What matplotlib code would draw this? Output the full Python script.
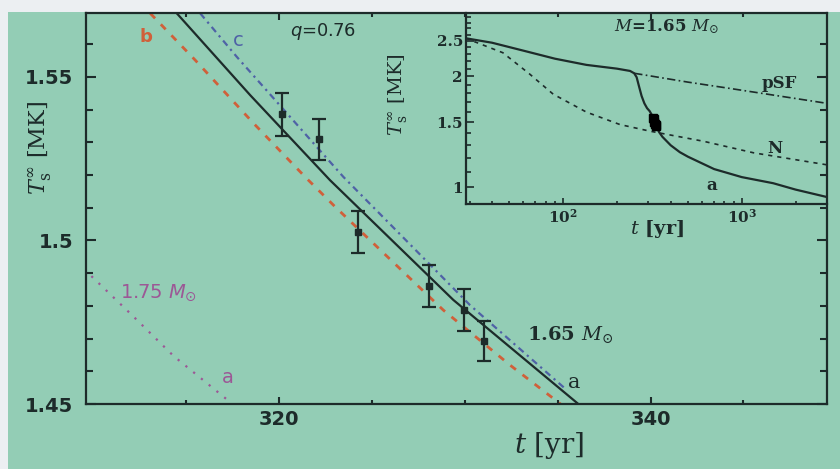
import matplotlib.pyplot as plt
from matplotlib.patches import Rectangle
from matplotlib.ticker import FixedLocator, NullFormatter

plt.rcParams['mathtext.fontset'] = 'dejavuserif'

# Cas A surface temperature points: age [yr], T [MK], 1-sigma error
obs_age = [320.15, 322.12, 324.27, 328.07, 329.97, 331.03]
obs_temp = [1.5385, 1.5309, 1.5025, 1.4861, 1.4787, 1.4692]
obs_err = [0.0066, 0.0062, 0.0065, 0.0065, 0.0064, 0.0061]

# cooling curves around the data, q = 0.76
age_a = [314.49, 318.44, 322.74, 329.38, 336.11]
temp_a = [1.5694, 1.5444, 1.5184, 1.4818, 1.4500]
age_b = [313.06, 315.48, 318.62, 321.40, 323.01, 328.84, 332.43, 335.22]
temp_b = [1.5694, 1.5551, 1.5358, 1.5194, 1.5103, 1.4787, 1.4619, 1.4497]
age_c = [315.75, 317.72, 323.46, 330.28, 335.48]
temp_c = [1.5694, 1.5561, 1.5194, 1.4802, 1.4543]
age_175 = [309.5, 312.16, 314.31, 317.27]
temp_175 = [1.4912, 1.4767, 1.4647, 1.4510]

# full cooling history for M = 1.65 Msun (inset)
ins_age_a = [28.5, 40, 60, 90, 135, 200, 237, 250, 258, 266, 275, 285, 295,
             305, 314.5, 320, 331, 345, 360, 400, 450, 500, 700, 1000, 1500,
             2000, 3000]
ins_temp_a = [2.54, 2.47, 2.35, 2.235, 2.15, 2.10, 2.07, 2.04, 1.99, 1.88,
              1.77, 1.69, 1.64, 1.61, 1.569, 1.538, 1.47, 1.41, 1.37, 1.30,
              1.245, 1.21, 1.12, 1.065, 1.025, 0.985, 0.94]
ins_age_psf = [250, 500, 861, 3000]
ins_temp_psf = [2.04, 1.93, 1.855, 1.69]
ins_age_n = [28.5, 46, 65, 88, 135, 208, 306, 610, 1164, 3000]
ins_temp_n = [2.54, 2.32, 2.03, 1.79, 1.60, 1.48, 1.42, 1.333, 1.24, 1.15]

green = '#93cdb5'
ink = '#1d2b2a'
red = '#d0603a'
blue = '#4f62a6'
purple = '#9c5896'

fig = plt.figure(figsize=(8.4, 4.69), dpi=100)
fig.patch.set_facecolor('#eceff2')
fig.patches.append(Rectangle((8 / 840, 0), 1, 457 / 469, transform=fig.transFigure,
                             facecolor=green, edgecolor='none', zorder=-10))

ax = fig.add_axes([86 / 840, 65 / 469, 741 / 840, 391 / 469])
ax.set_facecolor(green)

ax.plot(age_a, temp_a, color=ink, lw=1.6)
ax.plot(age_b, temp_b, color=red, lw=2.0, ls=(0, (2.5, 3)))
ax.plot(age_c, temp_c, color=blue, lw=1.6, ls=(0, (3, 2, 1, 2)))
ax.plot(age_175, temp_175, color=purple, lw=1.6, ls=(0, (1, 3.5)))
ax.errorbar(obs_age, obs_temp, yerr=obs_err, fmt='s', color=ink, ms=4,
            capsize=5, elinewidth=1.6, capthick=1.6)

ax.set_xlim(309.6, 349.5)
ax.set_ylim(1.45, 1.5695)
ax.set_xticks([320, 340], labels=['320', '340'])
ax.set_xticks([315, 325, 330, 335, 345], minor=True)
ax.set_yticks([1.45, 1.5, 1.55], labels=['1.45', '1.5', '1.55'])
ax.set_yticks([1.46, 1.47, 1.48, 1.49, 1.51, 1.52, 1.53, 1.54, 1.56], minor=True)
ax.tick_params(which='both', direction='in', top=True, right=True,
               width=1.5, color=ink, labelcolor=ink)
ax.tick_params(axis='x', which='major', length=5, pad=4)
ax.tick_params(axis='x', which='minor', length=3)
ax.tick_params(axis='y', which='major', length=7.5, pad=9)
ax.tick_params(axis='y', which='minor', length=5)
for lab in ax.get_xticklabels() + ax.get_yticklabels():
    lab.set_fontfamily('DejaVu Sans')
    lab.set_fontweight('bold')
    lab.set_fontsize(14)
for sp in ax.spines.values():
    sp.set_linewidth(1.6)
    sp.set_color(ink)

ax.set_xlabel(r'$t$ [yr]', family='DejaVu Serif', fontsize=20, color=ink)
ax.xaxis.set_label_coords(0.625, -0.066)
ax.set_ylabel(r'$T_{\rm s}^{\infty}$ [MK]', family='DejaVu Serif', fontsize=16,
              color=ink)
ax.yaxis.set_label_coords(-0.045, 0.655)

ax.text(322.37, 1.5637, r'$q$=0.76', family='DejaVu Sans', math_fontfamily='dejavusans',
        fontsize=13, color=ink, ha='center', va='center')
ax.text(312.84, 1.5621, 'b', family='DejaVu Sans', fontweight='bold', fontsize=13,
        color=red, ha='center', va='center')
ax.text(317.79, 1.5612, 'c', family='DejaVu Sans', fontsize=14, color=blue,
        ha='center', va='center')
ax.text(311.44, 1.4824, r'1.75 $M_{\odot}$', family='DejaVu Sans',
        math_fontfamily='dejavusans', fontsize=14, color=purple)
ax.text(316.93, 1.4565, 'a', family='DejaVu Sans', fontsize=14, color=purple)
ax.text(333.33, 1.4696, r'1.65 $M_{\odot}$', family='DejaVu Serif', fontweight='bold',
        fontsize=14, color=ink)
ax.text(335.57, 1.4548, 'a', family='DejaVu Serif', fontsize=15, color=ink)

# inset: the whole cooling history on log axes
ax_in = fig.add_axes([465.7 / 840, 265 / 469, 361.3 / 840, 191 / 469])
ax_in.patch.set_alpha(0)
ax_in.set_xscale('log')
ax_in.set_yscale('log')
ax_in.plot(ins_age_a, ins_temp_a, color=ink, lw=1.6)
ax_in.plot(ins_age_psf, ins_temp_psf, color=ink, lw=1.2, ls=(0, (5, 2, 1, 2)))
ax_in.plot(ins_age_n, ins_temp_n, color=ink, lw=1.2, ls=(0, (2.5, 3)))
ax_in.plot(obs_age, obs_temp, 's', color='black', ms=6)
ax_in.set_xlim(28.5, 3000)
ax_in.set_ylim(0.9, 2.975)

ax_in.xaxis.set_major_locator(FixedLocator([100, 1000]))
ax_in.xaxis.set_minor_locator(FixedLocator([30, 40, 50, 60, 70, 80, 90, 200, 300, 400,
                                            500, 600, 700, 800, 900, 2000, 3000]))
ax_in.set_xticklabels([r'$\mathbf{10^{2}}$', r'$\mathbf{10^{3}}$'])
ax_in.yaxis.set_major_locator(FixedLocator([1, 1.5, 2, 2.5]))
ax_in.yaxis.set_minor_locator(FixedLocator([0.9, 1.1, 1.2, 1.3, 1.4, 1.6, 1.7, 1.8, 1.9,
                                            2.1, 2.2, 2.3, 2.4, 2.6, 2.7, 2.8, 2.9]))
ax_in.set_yticklabels(['1', '1.5', '2', '2.5'])
ax_in.xaxis.set_minor_formatter(NullFormatter())
ax_in.yaxis.set_minor_formatter(NullFormatter())
ax_in.tick_params(which='both', direction='in', top=False, right=False,
                  width=1.2, color=ink, labelcolor=ink)
ax_in.tick_params(axis='x', which='major', length=4, pad=3)
ax_in.tick_params(axis='x', which='minor', length=2.5)
ax_in.tick_params(axis='y', which='major', length=6, pad=2)
ax_in.tick_params(axis='y', which='minor', length=3.5)
for lab in ax_in.get_xticklabels() + ax_in.get_yticklabels():
    lab.set_fontfamily('DejaVu Serif')
    lab.set_fontweight('bold')
    lab.set_fontsize(11)
ax_in.spines['top'].set_visible(False)
ax_in.spines['right'].set_visible(False)
for side in ('left', 'bottom'):
    ax_in.spines[side].set_linewidth(1.6)
    ax_in.spines[side].set_color(ink)

ax_in.set_xlabel(r'$t$ [yr]', family='DejaVu Serif', fontweight='bold', fontsize=14,
                 color=ink)
ax_in.xaxis.set_label_coords(0.531, -0.075)
ax_in.set_ylabel(r'$T_{\rm s}^{\infty}$ [MK]', family='DejaVu Serif', fontsize=14,
                 color=ink)
ax_in.yaxis.set_label_coords(-0.155, 0.57)

ax_in.text(380, 2.65, r'$M$=1.65 $M_{\odot}$', family='DejaVu Serif', fontweight='bold',
           fontsize=12, color=ink, ha='center')
ax_in.text(1297, 1.861, 'pSF', family='DejaVu Serif', fontweight='bold', fontsize=12,
           color=ink)
ax_in.text(1383, 1.24, 'N', family='DejaVu Serif', fontweight='bold', fontsize=12,
           color=ink)
ax_in.text(637, 0.98, 'a', family='DejaVu Serif', fontweight='bold', fontsize=12,
           color=ink)

fig.savefig('out.png', dpi=100, facecolor=fig.get_facecolor())
